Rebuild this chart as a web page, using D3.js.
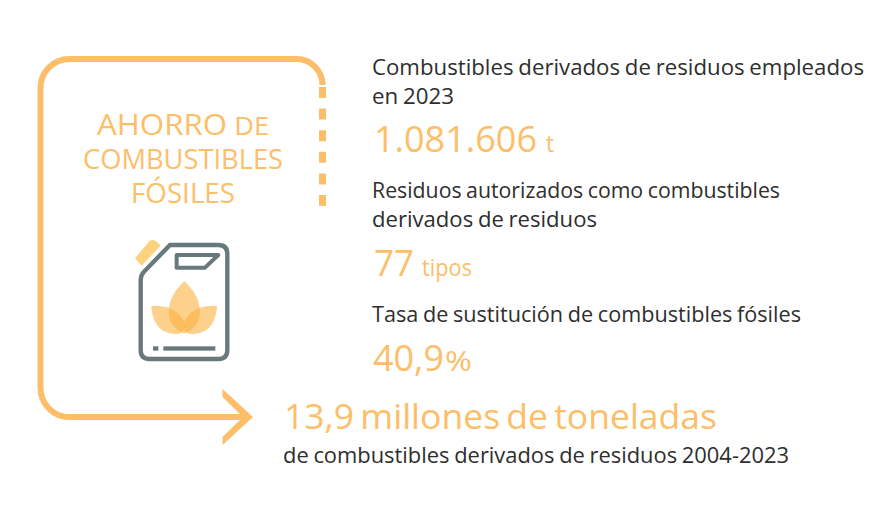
<!DOCTYPE html>
<html>
<head>
<meta charset="utf-8">
<style>
  html, body { margin: 0; padding: 0; background: #fff; }
  svg { display: block; }
  text { font-family: "Open Sans", sans-serif; }
</style>
</head>
<body>
<svg id="mainSvg" width="881" height="524"></svg>
<script src="https://d3js.org/d3.v7.min.js"></script>
<script>
  const orange = '#fdbe69', dark = '#2e2e2e', grey = '#68797e'

  // texts
  const titleLines = ['COMBUSTIBLES', 'FÓSILES']
  const descriptions = [
    'Combustibles derivados de residuos empleados', 'en 2023',
    'Residuos autorizados como combustibles', 'derivados de residuos',
    'Tasa de sustitución de combustibles fósiles'
  ]
  const statValues = ['1.081.606', '77', '40,9']
  const statUnits = ['t', 'tipos', '%']
  const totalValue = '13,9 millones de toneladas'
  const totalLabel = 'de combustibles derivados de residuos 2004-2023'

  const svg = d3.select('#mainSvg')

  // frame + arrow
  const frame = d3.path()
  frame.moveTo(322.5, 81)
  frame.arcTo(322.5, 59, 296, 59, 26)
  frame.lineTo(70, 59)
  frame.arcTo(40.5, 59, 40.5, 89, 29)
  frame.lineTo(40.5, 388)
  frame.arcTo(40.5, 417, 70, 417, 29)
  frame.lineTo(246, 417)
  svg.append('path').attr('d', frame.toString()).attr('fill', 'none')
    .attr('stroke', orange).attr('stroke-width', 6)

  svg.append('path').attr('d', 'M222.5,389 L253,417 L222.5,445 L222.5,437 L243,417 L222.5,397 Z')
    .attr('fill', orange)

  svg.append('line').attr('x1', 322.5).attr('x2', 322.5).attr('y1', 87).attr('y2', 207)
    .attr('stroke', orange).attr('stroke-width', 7).attr('stroke-dasharray', '11 10.6')

  // title
  const ahorro = svg.append('text').attr('x', 97).attr('y', 135).attr('fill', orange)
    .attr('textLength', 172).attr('lengthAdjust', 'spacingAndGlyphs')
  ahorro.append('tspan').attr('font-size', 30).text('AHORRO')
  ahorro.append('tspan').attr('font-size', 26).text(' DE')

  svg.append('text').attr('x', 83).attr('y', 169).attr('fill', orange).attr('font-size', 26.5)
    .attr('textLength', 200).attr('lengthAdjust', 'spacingAndGlyphs').text(titleLines[0])
  svg.append('text').attr('x', 131).attr('y', 203).attr('fill', orange).attr('font-size', 26.5)
    .attr('textLength', 104).attr('lengthAdjust', 'spacingAndGlyphs').text(titleLines[1])

  // icon, coords in a 3x working grid
  const icon = svg.append('g').attr('transform', 'translate(120,225) scale(0.3333)')

  icon.append('path')
    .attr('d', 'M45,100 L88,49 Q98,40 108,49 L122,62 L65,122 Z')
    .attr('fill', '#fdd27f')

  icon.append('path')
    .attr('d', 'M150,60 L295,60 Q322,60 322,87 L322,375 Q322,402 295,402 L89,402 Q62,402 62,375 L62,165 Q62,150 72,140 Z')
    .attr('fill', 'none').attr('stroke', grey).attr('stroke-width', 13)

  icon.append('path')
    .attr('d', 'M170,90 L295,90 L255,128 L170,128 Z')
    .attr('fill', 'none').attr('stroke', grey).attr('stroke-width', 12).attr('stroke-linejoin', 'round')

  icon.append('rect').attr('x', 99).attr('y', 364).attr('width', 16).attr('height', 13).attr('fill', grey)
  icon.append('rect').attr('x', 130).attr('y', 364).attr('width', 156).attr('height', 13).attr('fill', grey)

  const leaves = [
    'M193,168 C165,195 146,225 146,262 C146,295 170,318 193,326 C216,318 240,295 240,262 C240,225 221,195 193,168 Z',
    'M94,243 C130,240 170,250 190,285 C198,305 192,322 178,326 C150,330 118,318 105,290 C98,275 95,260 94,243 Z',
    'M291,243 C255,240 215,250 195,285 C187,305 193,322 207,326 C235,330 267,318 280,290 C287,275 290,260 291,243 Z'
  ]
  icon.selectAll('.leaf').data(leaves).enter().append('path').classed('leaf', true)
    .attr('d', d => d).attr('fill', '#fcb040').attr('fill-opacity', 0.6)

  // right column
  const descStyle = [
    { x: 372, y: 75, len: 492 },
    { x: 372, y: 104, len: 82 },
    { x: 372, y: 198, len: 408 },
    { x: 372, y: 227, len: 225 },
    { x: 372, y: 322, len: 429 }
  ]
  svg.selectAll('.desc').data(descriptions).enter().append('text').classed('desc', true)
    .attr('x', (d, i) => descStyle[i].x).attr('y', (d, i) => descStyle[i].y)
    .attr('textLength', (d, i) => descStyle[i].len).attr('lengthAdjust', 'spacingAndGlyphs')
    .attr('font-size', 22).attr('word-spacing', -1).attr('fill', dark).text(d => d)

  const statStyle = [
    { x: 374, y: 152, len: 163, ux: 546, ulen: 8, us: 24 },
    { x: 374, y: 276, len: 40, ux: 422, ulen: 50, us: 24 },
    { x: 373, y: 371, len: 71, ux: 445, ulen: 27, us: 28 }
  ]
  statValues.forEach((v, i) => {
    const s = statStyle[i]
    svg.append('text').attr('x', s.x).attr('y', s.y).attr('font-size', 36).attr('font-weight', 500)
      .attr('fill', orange)
      .attr('textLength', s.len).attr('lengthAdjust', 'spacingAndGlyphs').text(v)
    svg.append('text').attr('x', s.ux).attr('y', s.y).attr('font-size', s.us).attr('fill', orange)
      .attr('textLength', s.ulen).attr('lengthAdjust', 'spacingAndGlyphs').text(statUnits[i])
  })

  svg.append('text').attr('x', 284).attr('y', 429).attr('font-size', 35).attr('font-weight', 500)
    .attr('word-spacing', -3).attr('fill', orange)
    .attr('textLength', 433).attr('lengthAdjust', 'spacingAndGlyphs').text(totalValue)
  svg.append('text').attr('x', 283).attr('y', 463).attr('font-size', 22).attr('word-spacing', -1)
    .attr('fill', dark)
    .attr('textLength', 506).attr('lengthAdjust', 'spacingAndGlyphs').text(totalLabel)
</script>
</body>
</html>
